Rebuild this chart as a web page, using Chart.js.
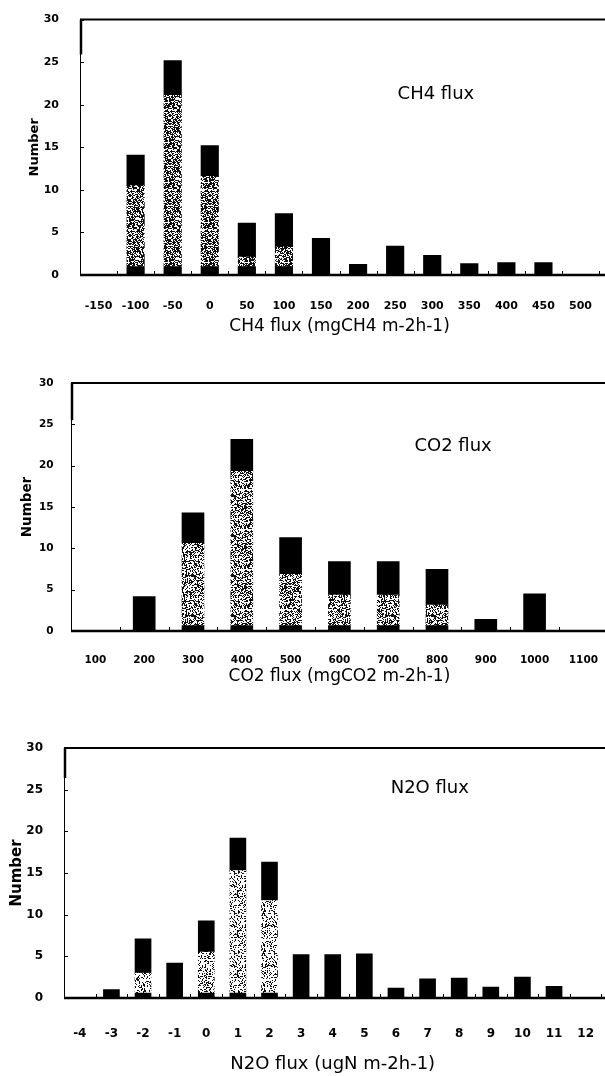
<!DOCTYPE html>
<html>
<head>
<meta charset="utf-8">
<script src="https://cdn.jsdelivr.net/npm/chart.js@4.4.1/dist/chart.umd.min.js"></script>
<style>
  html, body { margin: 0; padding: 0; background: #fff; }
  #page { position: relative; width: 605px; height: 1076px; overflow: hidden; }
  canvas { position: absolute; left: 0; }
</style>
</head>
<body>
<div id="page">
  <canvas id="ch4Chart" width="609" height="340" style="top:0px"></canvas>
  <canvas id="co2Chart" width="613" height="350" style="top:340px"></canvas>
  <canvas id="n2oChart" width="615" height="386" style="top:690px"></canvas>
</div>
<script>
// CH4 flux classes (mgCH4 m-2 h-1)
const ch4Bins = [-150, -100, -50, 0, 50, 100, 150, 200, 250, 300, 350, 400, 450, 500];
const ch4Bottom = [0, 1.0, 1.0, 1.0, 1.0, 1.0, 0, 0, 0, 0, 0, 0, 0, 0];
const ch4Middle = [0, 9.5, 20.1, 10.6, 1.1, 2.3, 0, 0, 0, 0, 0, 0, 0, 0];
const ch4Top = [0, 3.6, 4.1, 3.6, 4.0, 3.9, 4.3, 1.25, 3.4, 2.3, 1.35, 1.45, 1.45, 0];

// CO2 flux classes (mgCO2 m-2 h-1)
const co2Bins = [100, 200, 300, 400, 500, 600, 700, 800, 900, 1000, 1100];
const co2Bottom = [0, 0, 0.65, 0.65, 0.65, 0.65, 0.65, 0.65, 0, 0, 0];
const co2Middle = [0, 0, 9.95, 18.65, 6.2, 3.7, 3.7, 2.5, 0, 0, 0];
const co2Top = [0, 4.15, 3.7, 3.9, 4.45, 4.05, 4.05, 4.3, 1.4, 4.5, 0];

// N2O flux classes (ugN m-2 h-1)
const n2oBins = [-4, -3, -2, -1, 0, 1, 2, 3, 4, 5, 6, 7, 8, 9, 10, 11, 12];
const n2oBottom = [0, 0, 0.6, 0, 0.6, 0.6, 0.6, 0, 0, 0, 0, 0, 0, 0, 0, 0, 0];
const n2oMiddle = [0, 0, 2.4, 0, 4.9, 14.7, 11.1, 0, 0, 0, 0, 0, 0, 0, 0, 0, 0];
const n2oTop = [0, 1.0, 4.1, 4.2, 3.75, 3.9, 4.6, 5.2, 5.2, 5.3, 1.2, 2.3, 2.4, 1.3, 2.5, 1.4, 0];

const yTicks = [0, 5, 10, 15, 20, 25, 30];

// speckled grey fill like the printed screen tone
function speckle(density) {
  const c = document.createElement('canvas');
  c.width = c.height = 40;
  const g = c.getContext('2d');
  g.fillStyle = '#fff';
  g.fillRect(0, 0, 40, 40);
  g.fillStyle = '#111';
  for (let i = 0; i < 1600; i++) {
    const h = Math.abs(Math.sin(i * 12.9898 + 78.233) * 43758.5453) % 1;
    if (h < density) g.fillRect(i % 40, Math.floor(i / 40), 1, 1);
  }
  return g.createPattern(c, 'repeat');
}

// axis frame: thin left axis, heavy top border and base line running to the page edge
const framePlugin = {
  id: 'frame',
  afterDatasetsDraw(chart) {
    const { ctx, chartArea: a, scales: { x, y } } = chart;
    const y0 = y.getPixelForValue(0);
    const line = (x1, y1, x2, y2) => { ctx.beginPath(); ctx.moveTo(x1, y1); ctx.lineTo(x2, y2); ctx.stroke(); };
    ctx.save();
    ctx.strokeStyle = '#000';
    ctx.lineWidth = 1;
    line(a.left + 0.5, a.top, a.left + 0.5, y0);
    yTicks.forEach(v => line(a.left, Math.round(y.getPixelForValue(v)) + 0.5, a.left + 4, Math.round(y.getPixelForValue(v)) + 0.5));
    for (let i = 0; i <= chart.data.labels.length; i++) {
      const px = Math.round(x.getPixelForValue(i - 0.5)) + 0.5;
      line(px, y0, px, y0 - 4);
    }
    ctx.lineWidth = 2.5;
    line(a.left + 1, a.top, a.left + 1, y.getPixelForValue(chart.options.plugins.frame.thickTo));
    ctx.lineWidth = 2;
    line(a.left, a.top, chart.width, a.top);
    ctx.lineWidth = 2.5;
    line(a.left, y0, chart.width, y0);
    ctx.restore();
  }
};

// gas name written inside the panel
const panelLabelPlugin = {
  id: 'panelLabel',
  afterDraw(chart, args, opts) {
    const { ctx, scales: { x, y } } = chart;
    ctx.save();
    ctx.font = '18px "DejaVu Sans"';
    ctx.fillStyle = '#000';
    ctx.textAlign = 'center';
    ctx.textBaseline = 'middle';
    ctx.fillText(opts.text, x.getPixelForValue(opts.at[0]), y.getPixelForValue(opts.at[1]));
    ctx.restore();
  }
};

function makeChart(id, bins, bottom, middle, top, s) {
  const ctx = document.getElementById(id).getContext('2d');
  const black = '#000';
  return new Chart(ctx, {
    type: 'bar',
    data: {
      labels: bins.map(v => String(v)),
      datasets: [
        { label: 'bottom', data: bottom, backgroundColor: black, barThickness: s.bar },
        { label: 'middle', data: middle, backgroundColor: speckle(s.tone), barThickness: s.bar },
        { label: 'top', data: top, backgroundColor: black, barThickness: s.bar }
      ]
    },
    options: {
      responsive: false,
      animation: false,
      events: [],
      layout: { padding: { top: s.top, bottom: s.bottom, left: 0, right: 0 } },
      plugins: {
        legend: { display: false },
        tooltip: { enabled: false },
        frame: { thickTo: s.thickTo },
        panelLabel: { text: s.name, at: s.nameAt }
      },
      scales: {
        x: {
          stacked: true,
          grid: { display: false },
          border: { display: false },
          ticks: {
            color: black, autoSkip: false, maxRotation: 0, padding: s.xPad,
            font: { family: 'DejaVu Sans', weight: 'bold', size: s.xFont }
          },
          title: {
            display: true, text: s.xTitle, color: black, padding: { top: 0, bottom: 0 },
            font: { family: 'DejaVu Sans', size: s.titleFont }
          },
          afterFit: sc => { sc.height = s.xH; }
        },
        y: {
          stacked: true,
          min: 0, max: 30,
          grid: { display: false },
          border: { display: false },
          afterBuildTicks: sc => { sc.ticks = yTicks.map(v => ({ value: v })); },
          ticks: {
            color: black, padding: s.yPad,
            font: { family: 'DejaVu Sans', weight: 'bold', size: s.yFont }
          },
          title: {
            display: true, text: 'Number', color: black, padding: { top: s.yTitlePad, bottom: 0 },
            font: { family: 'DejaVu Sans', weight: 'bold', size: s.yTitleFont }
          },
          afterFit: sc => { sc.width = s.left; }
        }
      }
    },
    plugins: [framePlugin, panelLabelPlugin]
  });
}

makeChart('ch4Chart', ch4Bins, ch4Bottom, ch4Middle, ch4Top, {
  bar: 17.5, tone: 0.58, top: 17, bottom: 3, left: 80, xH: 62, xPad: 17, yPad: 13,
  xFont: 11, yFont: 11, titleFont: 17, yTitleFont: 13, yTitlePad: 27, thickTo: 25.9,
  xTitle: 'CH4 flux (mgCH4 m-2h-1)', name: 'CH4 flux', nameAt: [9.1, 21.2]
});

makeChart('co2Chart', co2Bins, co2Bottom, co2Middle, co2Top, {
  bar: 22, tone: 0.47, top: 43, bottom: 3, left: 71, xH: 56, xPad: 15, yPad: 9.5,
  xFont: 10.5, yFont: 10.5, titleFont: 17, yTitleFont: 13.5, yTitlePad: 19, thickTo: 25.5,
  xTitle: 'CO2 flux (mgCO2 m-2h-1)', name: 'CO2 flux', nameAt: [7.33, 22.3]
});

makeChart('n2oChart', n2oBins, n2oBottom, n2oMiddle, n2oTop, {
  bar: 16, tone: 0.3, top: 58, bottom: 1, left: 64, xH: 77, xPad: 21, yPad: 13,
  xFont: 12, yFont: 12, titleFont: 18, yTitleFont: 15, yTitlePad: 8, thickTo: 26.4,
  xTitle: 'N2O flux (ugN m-2h-1)', name: 'N2O flux', nameAt: [11.07, 25.2]
});
</script>
</body>
</html>
